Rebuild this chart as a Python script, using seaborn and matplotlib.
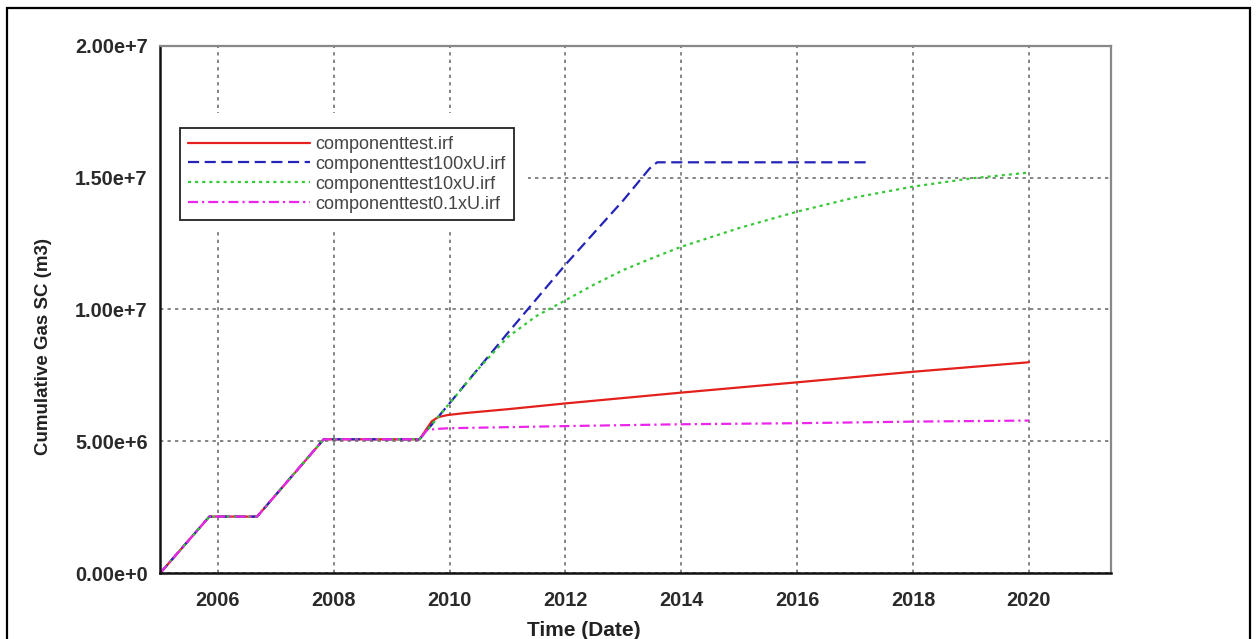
import numpy as np
import pandas as pd
import matplotlib
matplotlib.use("Agg")
import matplotlib.pyplot as plt
import matplotlib.dates as mdates
from matplotlib.lines import Line2D
from matplotlib.patches import Rectangle
import seaborn as sns

# ---- data -------------------------------------------------------------
# production history shared by every run (until mid 2009)
history_dates = ["2005-01-01", "2005-11-08", "2006-09-05", "2007-10-30", "2009-06-25"]
history_gas = [0.0, 2.15e6, 2.15e6, 5.08e6, 5.08e6]

base_dates = ["2009-09-10", "2009-10-20", "2009-12-20", "2010-04-01", "2011-01-01",
              "2012-01-01", "2014-01-01", "2016-01-01", "2018-01-01", "2020-01-01"]
base_gas = [5.76e6, 5.92e6, 6.00e6, 6.07e6, 6.22e6, 6.44e6, 6.85e6, 7.24e6,
            7.64e6, 8.00e6]

u100_dates = ["2010-01-01", "2011-01-01", "2012-01-01", "2013-01-01", "2013-06-15",
              "2013-08-01", "2017-03-08"]
u100_gas = [6.45e6, 9.10e6, 11.70e6, 14.15e6, 15.35e6, 15.58e6, 15.58e6]

u10_dates = ["2010-01-01", "2010-07-01", "2011-01-01", "2011-07-01", "2012-01-01",
             "2012-07-01", "2013-01-01", "2013-07-01", "2014-01-01", "2015-01-01",
             "2016-01-01", "2017-01-01", "2018-01-01", "2019-01-01", "2020-01-01"]
u10_gas = [6.45e6, 7.75e6, 8.95e6, 9.75e6, 10.35e6, 10.95e6, 11.50e6, 11.95e6,
           12.38e6, 13.09e6, 13.71e6, 14.25e6, 14.66e6, 14.97e6, 15.19e6]

u01_dates = ["2009-08-10", "2009-10-01", "2010-01-01", "2012-01-01", "2014-01-01",
             "2016-01-01", "2018-01-01", "2020-01-01"]
u01_gas = [5.42e6, 5.47e6, 5.50e6, 5.58e6, 5.65e6, 5.69e6, 5.75e6, 5.79e6]

cases = ["componenttest.irf", "componenttest100xU.irf",
         "componenttest10xU.irf", "componenttest0.1xU.irf"]
case_dates = [base_dates, u100_dates, u10_dates, u01_dates]
case_gas = [base_gas, u100_gas, u10_gas, u01_gas]

tick_years = [2006, 2008, 2010, 2012, 2014, 2016, 2018, 2020]
y_ticks = [0.0, 5e6, 1e7, 1.5e7, 2e7]
y_tick_labels = ["0.00e+0", "5.00e+6", "1.00e+7", "1.50e+7", "2.00e+7"]

x_title = "Time (Date)"
y_title = "Cumulative Gas SC (m3)"

# ---- styling ----------------------------------------------------------
colors = {cases[0]: "#e4201c", cases[1]: "#2424b8",
          cases[2]: "#36c836", cases[3]: "#ec24ec"}
dashes = {cases[0]: "", cases[1]: (5, 2.5),
          cases[2]: (1.4, 1.8), cases[3]: (4.5, 1.8, 1, 1.8)}

rows = []
for name, d, g in zip(cases, case_dates, case_gas):
    for dd, gg in zip(history_dates + d, history_gas + g):
        rows.append({"case": name, "date": pd.Timestamp(dd), "gas": gg})
df = pd.DataFrame(rows)

sns.set_style("white")
plt.rcParams["font.family"] = ["Liberation Sans", "DejaVu Sans"]

fig = plt.figure(figsize=(12.58, 6.39), dpi=100)
ax = fig.add_axes([160 / 1258, 1 - 573.3 / 639, 951 / 1258, 527.6 / 639])

sns.lineplot(data=df, x="date", y="gas", hue="case", style="case",
             hue_order=cases, style_order=cases, palette=colors, dashes=dashes,
             estimator=None, sort=False, linewidth=1.6, legend=False, ax=ax)

ax.set_xlim(mdates.date2num(pd.Timestamp("2005-01-01")),
            mdates.date2num(pd.Timestamp("2021-06-01")))
ax.set_ylim(0, 2e7)

ax.set_xticks([mdates.date2num(pd.Timestamp(f"{y}-01-01")) for y in tick_years])
ax.set_xticklabels([str(y) for y in tick_years])
ax.set_yticks(y_ticks)
ax.set_yticklabels(y_tick_labels)

for lab in ax.get_xticklabels() + ax.get_yticklabels():
    lab.set_fontweight("bold")
    lab.set_fontsize(14.3)
    lab.set_color("#2a2a2a")

ax.tick_params(axis="x", direction="inout", length=12, width=1.4, pad=7, color="#111")
ax.tick_params(axis="y", direction="inout", length=12, width=1.4, pad=3, color="#111")

ax.set_axisbelow(True)
ax.grid(True, color="#707070", linestyle=(0, (2.0, 2.5)), linewidth=1.2)

for side in ("left", "bottom"):
    ax.spines[side].set_color("#111")
    ax.spines[side].set_linewidth(1.8)
for side in ("top", "right"):
    ax.spines[side].set_color("#888")
    ax.spines[side].set_linewidth(1.6)

ax.set_xlabel(x_title, fontsize=15, fontweight="bold", color="#222")
ax.set_ylabel(y_title, fontsize=13.5, fontweight="bold", color="#222")
ax.xaxis.set_label_coords(0.446, -0.109)
ax.xaxis.label.set_va("center")
ax.yaxis.set_label_coords(-0.123, 0.429)
ax.yaxis.label.set_va("center")

# clear area around the legend box
ax.add_patch(Rectangle((0.0, 0.651), 0.387, 0.222, transform=ax.transAxes,
                       facecolor="white", edgecolor="none", zorder=1.5))

handles = []
for name in cases:
    h = Line2D([], [], color=colors[name], linewidth=1.6)
    if dashes[name]:
        h.set_dashes(dashes[name])
    handles.append(h)
leg = ax.legend(handles, cases, loc="upper left", bbox_to_anchor=(0.021, 0.8434),
                borderaxespad=0, fontsize=13, handlelength=6.8, handletextpad=0.3,
                labelspacing=0.16, borderpad=0.42, fancybox=False, framealpha=1,
                edgecolor="#222", labelcolor="#444")
leg.get_frame().set_linewidth(1.3)
leg.set_zorder(5)

# outer frame of the figure
fig.add_artist(Rectangle((7 / 1258, -0.02), 1243 / 1258, 1 - 8 / 639 + 0.02,
                         transform=fig.transFigure, fill=False,
                         edgecolor="black", linewidth=1.6))

fig.savefig("out.png", dpi=100)
